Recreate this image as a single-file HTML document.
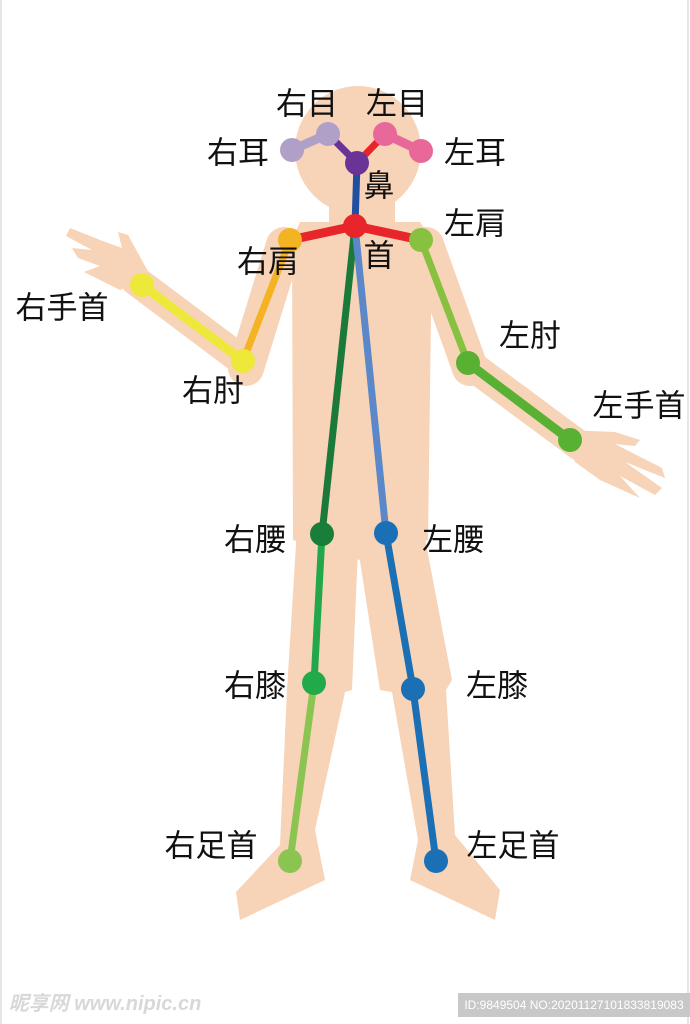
<!DOCTYPE html>
<html><head><meta charset="utf-8"><style>
html,body{margin:0;padding:0;background:#fff}
svg{display:block}
text{font-family:"Liberation Sans","Noto Sans CJK JP",sans-serif;font-size:31px;fill:#111;text-anchor:middle;dominant-baseline:central}
</style></head><body>
<svg width="690" height="1024" viewBox="0 0 690 1024" xmlns="http://www.w3.org/2000/svg">
<rect x="0" y="0" width="690" height="1024" fill="#fff"/>
<line x1="1" y1="0" x2="1" y2="1024" stroke="#e6e6e6" stroke-width="2"/>
<line x1="688" y1="0" x2="688" y2="1024" stroke="#e6e6e6" stroke-width="2"/>
<g fill="#f7d3b7" stroke="#f7d3b7">
<ellipse cx="358" cy="150" rx="63" ry="64" stroke="none"/>
<rect x="329" y="185" width="66" height="45" stroke="none"/>
<path d="M300 222 L420 222 L432 240 L428 540 L360 560 L293 540 L292 240 Z" stroke="none"/>
<line x1="284" y1="245" x2="246" y2="368" stroke-width="36" stroke-linecap="round"/>
<line x1="243" y1="361" x2="135" y2="280" stroke-width="30" stroke-linecap="round"/>
<path d="M150 275 L128 235 L118 232 L122 248 L100 240 L70 228 L66 236 L92 250 L72 248 L78 258 L100 266 L84 272 L100 280 L120 290 Z" stroke="none"/>
<line x1="426" y1="245" x2="470" y2="368" stroke-width="36" stroke-linecap="round"/>
<line x1="468" y1="363" x2="580" y2="446" stroke-width="30" stroke-linecap="round"/>
<path d="M565 430 L615 432 L640 440 L635 446 L615 444 L662 468 L665 478 L625 462 L662 488 L655 495 L620 476 L640 498 L600 480 L575 462 Z" stroke="none"/>
<path d="M297 528 L358 548 L352 690 L345 692 L315 830 L325 880 L240 920 L236 892 L280 845 L287 690 Z" stroke="none"/>
<path d="M358 548 L423 528 L452 680 L446 690 L455 835 L500 890 L495 920 L410 880 L418 840 L392 692 L380 690 Z" stroke="none"/>
</g>
<g stroke-width="7" stroke-linecap="round">
<line x1="357" y1="163" x2="355" y2="226" stroke="#1f4fa0"/>
<line x1="357" y1="163" x2="328" y2="134" stroke="#6a3496"/>
<line x1="357" y1="163" x2="385" y2="134" stroke="#e8252a"/>
<line x1="328" y1="134" x2="292" y2="150" stroke="#b0a0c8" stroke-width="9"/>
<line x1="385" y1="134" x2="421" y2="151" stroke="#e8689a" stroke-width="9"/>
<line x1="355" y1="226" x2="290" y2="240" stroke="#e8252a" stroke-width="9"/>
<line x1="355" y1="226" x2="421" y2="240" stroke="#e8252a" stroke-width="9"/>
<line x1="290" y1="240" x2="243" y2="361" stroke="#f4b323"/>
<line x1="243" y1="361" x2="142" y2="285" stroke="#ede83a" stroke-width="9"/>
<line x1="421" y1="240" x2="468" y2="363" stroke="#88c040"/>
<line x1="468" y1="363" x2="570" y2="440" stroke="#58b133" stroke-width="9"/>
<line x1="355" y1="226" x2="322" y2="534" stroke="#1b7a3a"/>
<line x1="355" y1="226" x2="386" y2="533" stroke="#5b88c8"/>
<line x1="322" y1="534" x2="314" y2="683" stroke="#22a84a"/>
<line x1="314" y1="683" x2="290" y2="861" stroke="#8cc452"/>
<line x1="386" y1="533" x2="413" y2="689" stroke="#1a6fb5"/>
<line x1="413" y1="689" x2="436" y2="861" stroke="#1a6fb5"/>
</g>
<g>
<circle cx="328" cy="134" r="12" fill="#b0a0c8"/>
<circle cx="292" cy="150" r="12" fill="#b0a0c8"/>
<circle cx="385" cy="134" r="12" fill="#e8689a"/>
<circle cx="421" cy="151" r="12" fill="#e8689a"/>
<circle cx="357" cy="163" r="12" fill="#6a3496"/>
<circle cx="355" cy="226" r="12" fill="#e8252a"/>
<circle cx="290" cy="240" r="12" fill="#f4b323"/>
<circle cx="421" cy="240" r="12" fill="#88c040"/>
<circle cx="243" cy="361" r="12" fill="#ede83a"/>
<circle cx="142" cy="285" r="12" fill="#ede83a"/>
<circle cx="468" cy="363" r="12" fill="#58b133"/>
<circle cx="570" cy="440" r="12" fill="#58b133"/>
<circle cx="322" cy="534" r="12" fill="#197e3a"/>
<circle cx="386" cy="533" r="12" fill="#1a6fb5"/>
<circle cx="314" cy="683" r="12" fill="#22aa4a"/>
<circle cx="413" cy="689" r="12" fill="#1a6fb5"/>
<circle cx="290" cy="861" r="12" fill="#8cc452"/>
<circle cx="436" cy="861" r="12" fill="#1a6fb5"/>
</g>
<text x="307" y="104">右目</text>
<text x="397" y="104">左目</text>
<text x="238" y="153">右耳</text>
<text x="475" y="153">左耳</text>
<text x="379" y="186">鼻</text>
<text x="475" y="224">左肩</text>
<text x="268" y="262">右肩</text>
<text x="379" y="256">首</text>
<text x="62" y="308">右手首</text>
<text x="213" y="391">右肘</text>
<text x="530" y="336">左肘</text>
<text x="639" y="406">左手首</text>
<text x="255" y="540">右腰</text>
<text x="453" y="540">左腰</text>
<text x="255" y="686">右膝</text>
<text x="497" y="686">左膝</text>
<text x="211" y="846">右足首</text>
<text x="513" y="846">左足首</text>
<text x="105" y="1004" style="font-size:20px;fill:#d8d8d8;font-style:italic;font-weight:bold">昵享网 www.nipic.cn</text>
<rect x="458" y="993" width="232" height="24" fill="#c8c8c8"/>
<text x="574" y="1005" style="font-size:12px;fill:#fff">ID:9849504 NO:20201127101833819083</text>
</svg>
</body></html>
